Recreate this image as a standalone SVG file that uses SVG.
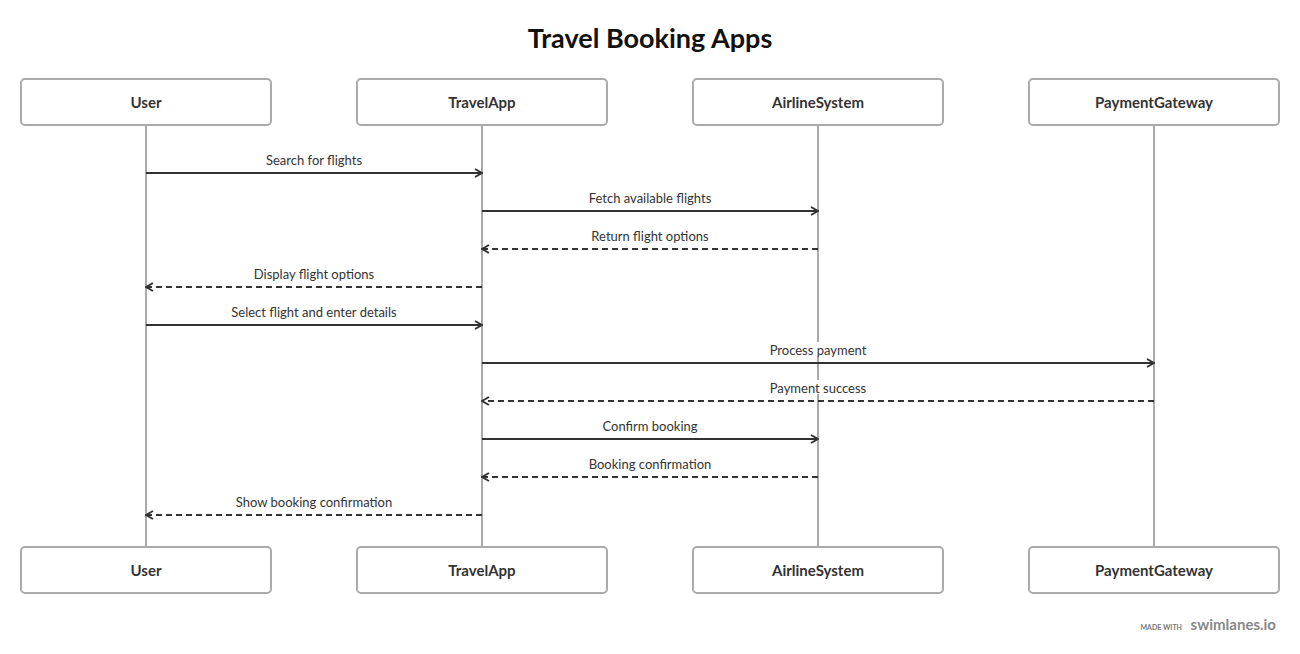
<svg xmlns="http://www.w3.org/2000/svg" width="1300" height="654" viewBox="0 0 1300 654">
<defs>
<marker id="ah" viewBox="0 0 10 10" refX="9" refY="5" markerWidth="10" markerHeight="10" markerUnits="userSpaceOnUse" orient="auto">
<path d="M2,1 L9,5 L2,9" fill="none" stroke="#333" stroke-width="2"/>
</marker>
</defs>
<style>
text{font-family:"Lato","Open Sans","Liberation Sans",sans-serif;}
.box{fill:#fff;stroke:#aaa;stroke-width:2;}
.name{font-size:15px;font-weight:bold;fill:#333;text-anchor:middle;}
.life{stroke:#aaa;stroke-width:2;}
.msg{stroke:#333;stroke-width:2;fill:none;marker-end:url(#ah);}
.ret{stroke-dasharray:6 4;}
.lbl{font-size:13px;fill:#333;text-anchor:middle;}
.bg{fill:#fff;}
</style>
<rect width="1300" height="654" fill="#fff"/>
<text x="650" y="48" font-size="27" font-weight="bold" fill="#111" text-anchor="middle">Travel Booking Apps</text>
<g id="lifelines">
<line class="life" x1="146" y1="125" x2="146" y2="547"/>
<line class="life" x1="482" y1="125" x2="482" y2="547"/>
<line class="life" x1="818" y1="125" x2="818" y2="547"/>
<line class="life" x1="1154" y1="125" x2="1154" y2="547"/>
</g>
<g id="node-user"><rect class="box" x="21" y="79" width="250" height="46" rx="4"/><text class="name" x="146" y="108">User</text></g>
<g id="node-travelapp"><rect class="box" x="357" y="79" width="250" height="46" rx="4"/><text class="name" x="482" y="108">TravelApp</text></g>
<g id="node-airline"><rect class="box" x="693" y="79" width="250" height="46" rx="4"/><text class="name" x="818" y="108">AirlineSystem</text></g>
<g id="node-payment"><rect class="box" x="1029" y="79" width="250" height="46" rx="4"/><text class="name" x="1154" y="108">PaymentGateway</text></g>
<g id="node-user-bottom"><rect class="box" x="21" y="547" width="250" height="46" rx="4"/><text class="name" x="146" y="576">User</text></g>
<g id="node-travelapp-bottom"><rect class="box" x="357" y="547" width="250" height="46" rx="4"/><text class="name" x="482" y="576">TravelApp</text></g>
<g id="node-airline-bottom"><rect class="box" x="693" y="547" width="250" height="46" rx="4"/><text class="name" x="818" y="576">AirlineSystem</text></g>
<g id="node-payment-bottom"><rect class="box" x="1029" y="547" width="250" height="46" rx="4"/><text class="name" x="1154" y="576">PaymentGateway</text></g>
<g id="connectors">
<line class="msg" x1="146" y1="173" x2="482" y2="173"/>
<text class="lbl" x="314" y="165">Search for flights</text>
<line class="msg" x1="482" y1="211" x2="818" y2="211"/>
<text class="lbl" x="650" y="203">Fetch available flights</text>
<line class="msg ret" x1="818" y1="249" x2="482" y2="249"/>
<text class="lbl" x="650" y="241">Return flight options</text>
<line class="msg ret" x1="482" y1="287" x2="146" y2="287"/>
<text class="lbl" x="314" y="279">Display flight options</text>
<line class="msg" x1="146" y1="325" x2="482" y2="325"/>
<text class="lbl" x="314" y="317">Select flight and enter details</text>
<line class="msg" x1="482" y1="363" x2="1154" y2="363"/>
<rect class="bg" x="768" y="342" width="100" height="14"/>
<text class="lbl" x="818" y="355">Process payment</text>
<line class="msg ret" x1="1154" y1="401" x2="482" y2="401"/>
<rect class="bg" x="768" y="380" width="100" height="14"/>
<text class="lbl" x="818" y="393">Payment success</text>
<line class="msg" x1="482" y1="439" x2="818" y2="439"/>
<text class="lbl" x="650" y="431">Confirm booking</text>
<line class="msg ret" x1="818" y1="477" x2="482" y2="477"/>
<text class="lbl" x="650" y="469">Booking confirmation</text>
<line class="msg ret" x1="482" y1="515" x2="146" y2="515"/>
<text class="lbl" x="314" y="507">Show booking confirmation</text>
</g>
<g id="watermark">
<text x="1182" y="630" font-size="7" font-weight="bold" fill="#777" text-anchor="end">MADE WITH</text>
<text x="1276" y="630" font-size="15" font-weight="bold" fill="#888" text-anchor="end">swimlanes.io</text>
</g>
</svg>
